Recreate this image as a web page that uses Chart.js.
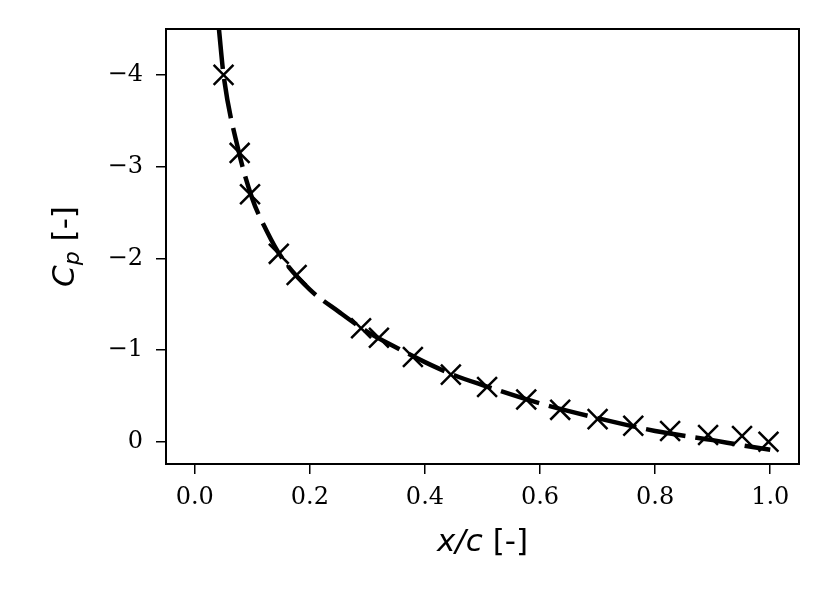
<!DOCTYPE html>
<html>
<head>
<meta charset="utf-8">
<script src="https://cdn.jsdelivr.net/npm/chart.js@4"></script>
<style>
  html, body { margin: 0; padding: 0; background: #fff; }
  #wrap { width: 830px; height: 593px; }
</style>
</head>
<body>
<div id="wrap"><canvas id="chart-cp" width="830" height="593"></canvas></div>
<script>
// ── Data ──────────────────────────────────────────────────────────────────────
const markerX  = [0.05, 0.078, 0.096, 0.146, 0.177, 0.289, 0.320, 0.379, 0.445,
                  0.508, 0.576, 0.635, 0.700, 0.762, 0.826, 0.892, 0.951, 0.997];
const markerCp = [-4.00, -3.15, -2.70, -2.05, -1.82, -1.24, -1.135, -0.925, -0.734,
                  -0.60, -0.463, -0.35, -0.249, -0.177, -0.119, -0.076, -0.065, -0.003];

const lineX  = [0.042, 0.05, 0.075, 0.1, 0.125, 0.15, 0.2, 0.25, 0.3, 0.35, 0.4,
                0.45, 0.5, 0.6, 0.7, 0.8, 0.9, 0.95, 1.0];
const lineCp = [-4.5, -4.0, -3.2, -2.65, -2.3, -2.02, -1.66, -1.42, -1.20, -1.03, -0.87,
                -0.73, -0.62, -0.42, -0.26, -0.12, -0.02, 0.035, 0.085];

const xTicks = [0.0, 0.2, 0.4, 0.6, 0.8, 1.0];
const yTicks = [-4, -3, -2, -1, 0];

// ── Helpers ───────────────────────────────────────────────────────────────────
const toPoints = (xs, ys) => xs.map((x, i) => ({ x, y: ys[i] }));
const TICK_FONT = { family: "'DejaVu Serif', serif", size: 24 };
const TITLE_PX = 31;

// frame + axis titles (titles need italic / subscript pieces)
const framePlugin = {
  id: 'frame',
  afterDraw(chart) {
    const { ctx, chartArea: a } = chart;
    ctx.save();
    ctx.strokeStyle = '#000';
    ctx.lineWidth = 2;
    ctx.strokeRect(a.left, a.top, a.right - a.left, a.bottom - a.top);

    ctx.fillStyle = '#000';
    ctx.textBaseline = 'alphabetic';
    const it  = `italic ${TITLE_PX}px 'DejaVu Sans'`;
    const up  = `${TITLE_PX}px 'DejaVu Sans'`;
    const sub = `italic ${Math.round(TITLE_PX * 0.7)}px 'DejaVu Sans'`;

    // x title: x/c [-]
    ctx.font = it; const w1 = ctx.measureText('x/c').width;
    ctx.font = up; const w2 = ctx.measureText(' [-]').width;
    let x0 = (a.left + a.right) / 2 - (w1 + w2) / 2;
    ctx.font = it; ctx.fillText('x/c', x0, 551);
    ctx.font = up; ctx.fillText(' [-]', x0 + w1, 551);

    // y title: C_p [-], rotated
    ctx.translate(74, (a.top + a.bottom) / 2);
    ctx.rotate(-Math.PI / 2);
    ctx.font = it;  const c1 = ctx.measureText('C').width;
    ctx.font = sub; const c2 = ctx.measureText('p').width;
    ctx.font = up;  const c3 = ctx.measureText(' [-]').width;
    x0 = -(c1 + c2 + c3) / 2;
    ctx.font = it;  ctx.fillText('C', x0, 0);
    ctx.font = sub; ctx.fillText('p', x0 + c1, 5);
    ctx.font = up;  ctx.fillText(' [-]', x0 + c1 + c2, 0);
    ctx.restore();
  }
};

// ── Chart ─────────────────────────────────────────────────────────────────────
const ctx = document.getElementById('chart-cp').getContext('2d');
new Chart(ctx, {
  type: 'scatter',
  data: {
    datasets: [
      {
        data: toPoints(lineX, lineCp),
        showLine: true,
        borderColor: '#000',
        borderWidth: 4.5,
        borderDash: [40, 10],
        cubicInterpolationMode: 'monotone',
        pointRadius: 0,
        order: 2,
      },
      {
        data: toPoints(markerX, markerCp),
        pointStyle: 'crossRot',
        pointRadius: 14,
        borderColor: '#000',
        borderWidth: 2.5,
        order: 1,
      },
    ]
  },
  options: {
    responsive: false,
    animation: false,
    devicePixelRatio: 1,
    layout: { padding: { top: 29, right: 31, left: 0, bottom: 0 } },
    plugins: { legend: { display: false }, tooltip: { enabled: false } },
    scales: {
      x: {
        type: 'linear', min: -0.05, max: 1.05,
        afterFit: s => { s.height = 129; },
        afterBuildTicks: s => { s.ticks = xTicks.map(v => ({ value: v })); },
        grid: { display: true, drawOnChartArea: false, drawTicks: true, tickLength: 10,
                color: '#000', lineWidth: 1.5 },
        border: { display: false },
        ticks: { color: '#000', font: TICK_FONT, padding: 9, maxRotation: 0,
                 callback: v => v.toFixed(1) },
      },
      y: {
        type: 'linear', min: -4.5, max: 0.24, reverse: true,
        afterFit: s => { s.width = 166; },
        afterBuildTicks: s => { s.ticks = yTicks.map(v => ({ value: v })); },
        grid: { display: true, drawOnChartArea: false, drawTicks: true, tickLength: 10,
                color: '#000', lineWidth: 1.5 },
        border: { display: false },
        ticks: { color: '#000', font: TICK_FONT, padding: 13,
                 callback: v => (v < 0 ? '\u2212' + Math.abs(v) : String(v)) },
      }
    }
  },
  plugins: [framePlugin]
});
</script>
</body>
</html>
